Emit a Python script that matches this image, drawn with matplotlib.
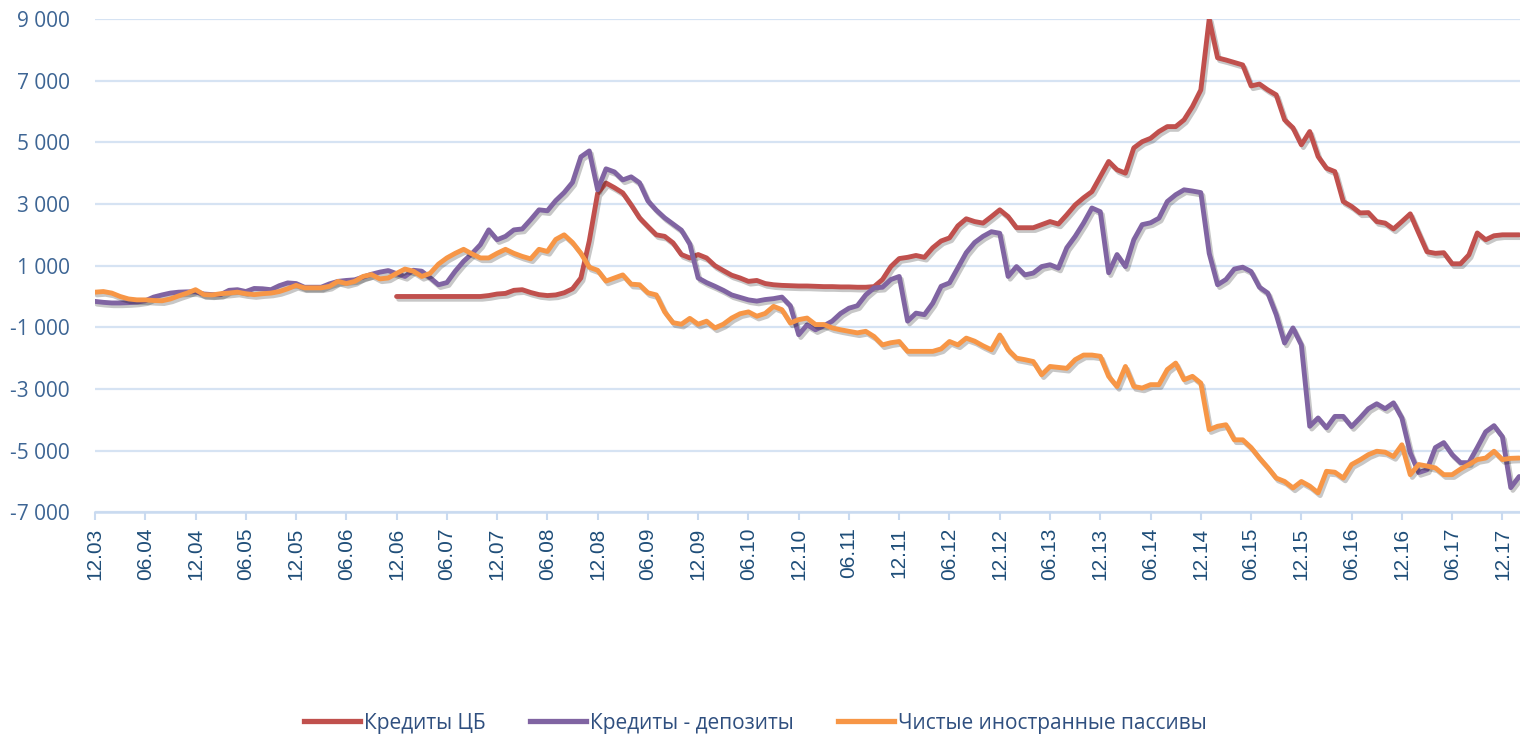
import numpy as np
import matplotlib
matplotlib.use("Agg")
import matplotlib.pyplot as plt
import matplotlib.patheffects as pe
from matplotlib.lines import Line2D
from matplotlib.ticker import FuncFormatter

plt.rcParams['font.family'] = ['Open Sans', 'DejaVu Sans']

# monthly data, first point = 12.03, last = 02.18
start_year, start_month = 2003, 12

# Кредиты ЦБ starts at 12.06
red_start = 36
red = [0, 0, 0, 0, 0, 0, 0, 0, 0, 0, 0, 30,
       80, 100, 200, 220, 130, 60, 30, 50, 120, 250, 600, 1800,
       3350, 3680, 3530, 3360, 2970, 2550, 2270, 2000, 1950, 1740, 1360, 1250,
       1360, 1250, 1000, 840, 690, 600, 490, 520, 420, 380, 360, 350,
       340, 340, 330, 320, 320, 310, 310, 300, 300, 320, 550, 970,
       1230, 1270, 1330, 1270, 1580, 1800, 1900, 2290, 2520, 2430, 2380, 2590,
       2810, 2590, 2230, 2230, 2230, 2330, 2430, 2350, 2650, 2970, 3200, 3400,
       3890, 4380, 4110, 4000, 4820, 5020, 5130, 5350, 5510, 5510, 5730, 6160,
       6700, 9000, 7740, 7670, 7590, 7510, 6830, 6890, 6700, 6540, 5730, 5470,
       4920, 5350, 4540, 4160, 4050, 3080, 2920, 2710, 2720, 2430, 2380, 2190,
       2430, 2680, 2060, 1450, 1400, 1420, 1060, 1060, 1350, 2060, 1840, 1970,
       2000, 2000, 2000]

purple = [-160, -190, -210, -210, -200, -180, -140, -20, 50, 110, 140, 150,
          150, 80, 60, 60, 200, 220, 160, 260, 250, 220, 350, 440,
          420, 300, 300, 300, 410, 490, 520, 540, 630, 720, 790, 840,
          740, 650, 850, 820, 610, 380, 450, 820, 1140, 1390, 1680, 2160,
          1840, 1950, 2160, 2190, 2490, 2810, 2780, 3110, 3370, 3700, 4530, 4720,
          3460, 4140, 4040, 3780, 3880, 3690, 3100, 2800, 2550, 2350, 2150, 1700,
          600, 450, 330, 200, 50, -30, -110, -150, -100, -70, -20, -300,
          -1240, -920, -1080, -950, -800, -550, -380, -300, 50, 280, 300, 550,
          650, -800, -540, -590, -220, 330, 440, 930, 1420, 1750, 1950, 2100,
          2050, 650, 970, 700, 760, 970, 1030, 920, 1580, 1950, 2380, 2870,
          2750, 770, 1360, 970, 1840, 2330, 2390, 2540, 3080, 3300, 3460, 3420,
          3370, 1400, 380, 550, 890, 950, 810, 300, 110, -590, -1510, -1020,
          -1570, -4210, -3940, -4260, -3890, -3890, -4220, -3940, -3640, -3480, -3640, -3450,
          -3940, -5070, -5710, -5620, -4900, -4740, -5130, -5390, -5390, -4900, -4390, -4190,
          -4550, -6200, -5840]

orange = [140, 160, 110, 0, -80, -110, -110, -130, -140, -80, 20, 110,
          220, 60, 50, 90, 110, 140, 90, 60, 90, 110, 160, 250,
          360, 280, 280, 280, 330, 490, 420, 490, 650, 710, 570, 600,
          750, 890, 820, 650, 750, 1050, 1250, 1400, 1530, 1380, 1250, 1250,
          1400, 1530, 1400, 1300, 1220, 1530, 1460, 1850, 2000, 1750, 1400, 950,
          850, 500, 600, 700, 400, 380, 120, 50, -500, -850, -900, -710,
          -900, -800, -1020, -900, -700, -560, -500, -640, -550, -320, -430, -860,
          -750, -700, -910, -910, -1020, -1080, -1130, -1180, -1130, -1300, -1570, -1500,
          -1460, -1780, -1780, -1780, -1780, -1700, -1460, -1570, -1350, -1450, -1600, -1730,
          -1250, -1730, -2000, -2050, -2110, -2540, -2270, -2300, -2330, -2050, -1900, -1900,
          -1940, -2590, -2920, -2270, -2920, -2970, -2860, -2860, -2370, -2160, -2700, -2590,
          -2810, -4320, -4210, -4160, -4650, -4650, -4900, -5240, -5550, -5890, -6000, -6210,
          -6000, -6150, -6370, -5670, -5700, -5890, -5450, -5300, -5130, -5020, -5050, -5190,
          -4810, -5780, -5450, -5500, -5560, -5780, -5780, -5600, -5450, -5290, -5240, -5020,
          -5290, -5250, -5240]

names = ['Кредиты ЦБ', 'Кредиты - депозиты', 'Чистые иностранные пассивы']
colors = ['#C0504D', '#8064A2', '#F79646']

n = len(purple)
x = np.arange(n)
labels = []
for i in range(n):
    m = (start_month - 1 + i) % 12 + 1
    y = start_year + (start_month - 1 + i) // 12
    labels.append('%02d.%02d' % (m, y % 100))

fig = plt.figure(figsize=(15.2, 7.34), dpi=100)
ax = fig.add_axes([95 / 1520, 1 - 512.3 / 734, 1 - 95 / 1520, (512.3 - 19) / 734])

shadow = [pe.SimpleLineShadow(offset=(1.5, -2), shadow_color='k', alpha=0.22), pe.Normal()]
ax.plot(x[red_start:red_start + len(red)], red, color=colors[0], lw=3.5,
        solid_capstyle='round', path_effects=shadow, zorder=3)
ax.plot(x, purple, color=colors[1], lw=3.5, solid_capstyle='round', path_effects=shadow, zorder=4)
ax.plot(x, orange, color=colors[2], lw=3.5, solid_capstyle='round', path_effects=shadow, zorder=5)

ax.set_ylim(-7000, 9000)
ax.set_yticks(range(-7000, 9001, 2000))
ax.yaxis.set_major_formatter(FuncFormatter(lambda v, p: '{:,.0f}'.format(v).replace(',', ' ')))
ax.set_xlim(0, 170.1)
ticks = list(range(0, n, 6))
ax.set_xticks(ticks)
ax.set_xticklabels([labels[i] for i in ticks], rotation=90, fontfamily=['Liberation Sans', 'DejaVu Sans'])

ax.yaxis.grid(True, color='#d6e3f3', lw=1.6)
ax.set_axisbelow(True)
for s in ['top', 'right', 'left']:
    ax.spines[s].set_visible(False)
ax.spines['bottom'].set_color('#c9daf0')
ax.spines['bottom'].set_linewidth(1.8)
ax.tick_params(axis='x', direction='out', length=6, width=1.5, color='#c9daf0',
               labelcolor='#1f4e79', labelsize=15, pad=5)
ax.tick_params(axis='y', length=0, labelcolor='#3d6594', labelsize=15, pad=18)

handles = [Line2D([], [], color=c, lw=3.8) for c in colors]
leg = fig.legend(handles, names, loc='lower center', bbox_to_anchor=(0.497, -0.025), ncol=3,
                 frameon=False, fontsize=15, handlelength=2.7, handletextpad=0.2,
                 columnspacing=2.1, labelcolor='#2f4f7f')

fig.savefig('out.png', dpi=100)
